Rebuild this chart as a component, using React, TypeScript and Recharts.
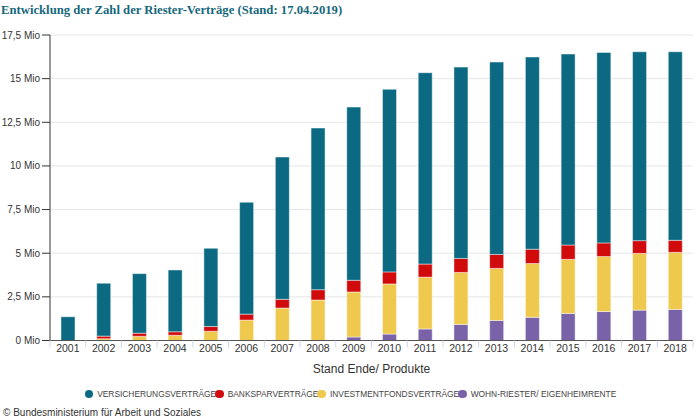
import React from 'react';
import { BarChart, Bar, XAxis, YAxis, CartesianGrid } from 'recharts';

const years = ['2001','2002','2003','2004','2005','2006','2007','2008','2009','2010','2011','2012','2013','2014','2015','2016','2017','2018'];
const wohnRiester = [0,0,0,0,0,0,0,0,0.2,0.37,0.66,0.92,1.15,1.33,1.55,1.66,1.74,1.78];
const investment = [0,0.1,0.24,0.3,0.53,1.17,1.86,2.32,2.58,2.87,2.97,2.98,2.98,3.08,3.1,3.15,3.25,3.27];
const banksparen = [0,0.15,0.18,0.2,0.27,0.34,0.5,0.59,0.67,0.69,0.75,0.8,0.8,0.82,0.82,0.78,0.73,0.69];
const versicherung = [1.36,3.03,3.41,3.54,4.48,6.41,8.15,9.26,9.92,10.46,10.96,10.96,11.02,11.01,10.94,10.91,10.82,10.8];
const yTicks = [0,2.5,5,7.5,10,12.5,15,17.5];

const seriesNames = ['VERSICHERUNGSVERTRÄGE','BANKSPARVERTRÄGE','INVESTMENTFONDSVERTRÄGE','WOHN-RIESTER/ EIGENHEIMRENTE'];
const seriesKeys = ['versicherung','banksparen','investment','wohnRiester'];
const seriesColors = ['#0b6a82','#d10a0b','#efc94e','#7a62a8'];

const data = years.map((y, i) => ({
  year: y,
  versicherung: versicherung[i],
  banksparen: banksparen[i],
  investment: investment[i],
  wohnRiester: wohnRiester[i],
}));

const fmtY = (v: number) => String(v).replace('.', ',') + ' Mio';
const FONT = "'Liberation Sans', Arial, sans-serif";

const XTick = (props: any) => {
  const { x, y, payload, index, visibleTicksCount } = props;
  const off = payload.offset || 0;
  const axisY = y - 4;
  return (
    <g>
      <line x1={x - off} x2={x - off} y1={axisY} y2={axisY + 7} stroke="#ccd6eb" strokeWidth={1} />
      {index === visibleTicksCount - 1 && (
        <line x1={x + off} x2={x + off} y1={axisY} y2={axisY + 7} stroke="#ccd6eb" strokeWidth={1} />
      )}
      <text x={x} y={y} dy="0.71em" textAnchor="middle" fill="#333" fontSize={10.5} fontFamily={FONT}>
        {payload.value}
      </text>
    </g>
  );
};

const YTick = (props: any) => {
  const { x, y, payload } = props;
  return (
    <text x={x} y={y} dy="0.355em" textAnchor="end" fill="#333" fontSize={10} fontFamily={FONT}>
      {fmtY(payload.value)}
    </text>
  );
};

export default function App() {
  const order = [0, 1, 2, 3];
  return (
    <div style={{ position: 'absolute', left: 0, top: 0, width: 700, height: 420, background: '#fff', fontFamily: FONT }}>
      <div style={{ position: 'absolute', left: 1, top: 3, fontFamily: "'Liberation Serif', 'Times New Roman', serif", fontWeight: 'bold', fontSize: 12.7, color: '#17687c', whiteSpace: 'nowrap' }}>
        Entwicklung der Zahl der Riester-Verträge (Stand: 17.04.2019)
      </div>
      <BarChart width={700} height={420} data={data} margin={{ top: 35, right: 7, left: 0, bottom: 0 }} barSize={14}>
        <CartesianGrid vertical={false} stroke="#e6e6e6" />
        <XAxis
          dataKey="year"
          height={79.5}
          tickLine={false}
          tickSize={0}
          tickMargin={4}
          interval={0}
          stroke="#555"
          tick={<XTick />}
          label={{ value: 'Stand Ende/ Produkte', position: 'insideTop', offset: 24, fill: '#333', fontSize: 12, fontFamily: FONT }}
        />
        <YAxis
          width={50}
          domain={[0, 17.5]}
          ticks={yTicks}
          tickSize={8}
          tickMargin={2}
          axisLine={{ stroke: '#999', strokeWidth: 2 }}
          tickLine={{ stroke: '#333' }}
          tick={<YTick />}
          interval={0}
        />
        {[3, 2, 1, 0].map((i) => (
          <Bar
            key={seriesKeys[i]}
            dataKey={seriesKeys[i]}
            name={seriesNames[i]}
            stackId="a"
            fill={seriesColors[i]}
            stroke="rgba(255,255,255,0.45)"
            strokeWidth={1}
            isAnimationActive={false}
          />
        ))}
      </BarChart>
      <div style={{ position: 'absolute', left: 0, top: 389, height: 10, width: 700, display: 'flex', justifyContent: 'center', alignItems: 'center', paddingLeft: 0, boxSizing: 'border-box' }}>
        {order.map((i) => (
          <div key={i} style={{ display: 'flex', alignItems: 'center', marginRight: -1 }}>
            <span style={{ display: 'inline-block', width: 8.5, height: 8.5, borderRadius: '50%', background: seriesColors[i], marginRight: 4 }} />
            <span style={{ fontSize: 8.4, lineHeight: '10px', color: '#444', whiteSpace: 'nowrap' }}>{seriesNames[i]}</span>
          </div>
        ))}
      </div>
      <div style={{ position: 'absolute', left: 3, top: 407, fontSize: 10, lineHeight: '12px', color: '#333', whiteSpace: 'nowrap' }}>
        © Bundesministerium für Arbeit und Soziales
      </div>
    </div>
  );
}
